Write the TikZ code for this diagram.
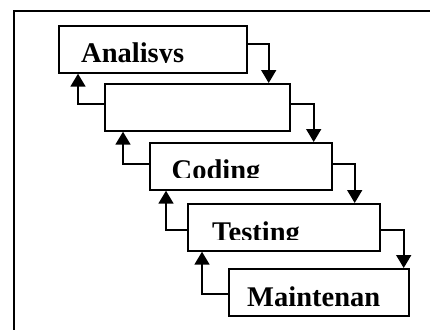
\documentclass[tikz,border=0pt]{standalone}
\usepackage{fontspec}
\setmainfont{Liberation Serif}
\usetikzlibrary{arrows.meta}
\begin{document}
\begin{tikzpicture}[x=1pt,y=-1pt,line join=miter,
  phase/.style={draw,line width=1.7pt,anchor=north west,inner sep=0pt,minimum height=47pt},
  flow/.style={line width=1.7pt,-{Triangle[length=13pt,width=15pt]}},
  lbl/.style={anchor=base west,inner sep=0pt,font=\fontsize{28.5}{30}\selectfont\bfseries}]
  \useasboundingbox (0,0) rectangle (430,329);
  % outer frame, runs off at right and bottom
  \draw[line width=1.5pt] (14,345) -- (14,11) -- (445,11);
  % phases
  \node[phase,minimum width=188pt] (analisys) at (58,25) {};
  \node[phase,minimum width=185pt] (design) at (104,83) {};
  \node[phase,minimum width=182pt] (coding) at (149,142) {};
  \node[phase,minimum width=192pt] (testing) at (187,203) {};
  \node[phase,minimum width=180pt] (maint) at (228,268) {};
  % labels, cut off at the bottom as in the original
  \begin{scope}
    \clip (58,25) rectangle (246,62.3);
    \node[lbl] (analisysText) at (81,63) {Analisys};
  \end{scope}
  \begin{scope}
    \clip (149,142) rectangle (331,177.6);
    \node[lbl] (codingText) at (171.5,179) {Coding};
  \end{scope}
  \begin{scope}
    \clip (187,203) rectangle (379,239.3);
    \node[lbl] (testingText) at (212,241) {Testing};
  \end{scope}
  \node[lbl] (maintText) at (247,306.5) {Maintenan};
  % down the waterfall
  \draw[flow] ([yshift=5.5pt]analisys.east) -| ([xshift=-22pt]design.north east);
  \draw[flow] ([yshift=3.5pt]design.east) -| ([xshift=-19pt]coding.north east);
  \draw[flow] ([yshift=2.5pt]coding.east) -| ([xshift=-26pt]testing.north east);
  \draw[flow] ([yshift=-2.5pt]testing.east) -| ([xshift=-6pt]maint.north east);
  % feedback back up
  \draw[flow] ([yshift=3.5pt]design.west) -| ([xshift=20pt]analisys.south west);
  \draw[flow] ([yshift=2.5pt]coding.west) -| ([xshift=19pt]design.south west);
  \draw[flow] ([yshift=-2.5pt]testing.west) -| ([xshift=17pt]coding.south west);
  \draw[flow] ([yshift=-1.5pt]maint.west) -| ([xshift=15pt]testing.south west);
\end{tikzpicture}
\end{document}
